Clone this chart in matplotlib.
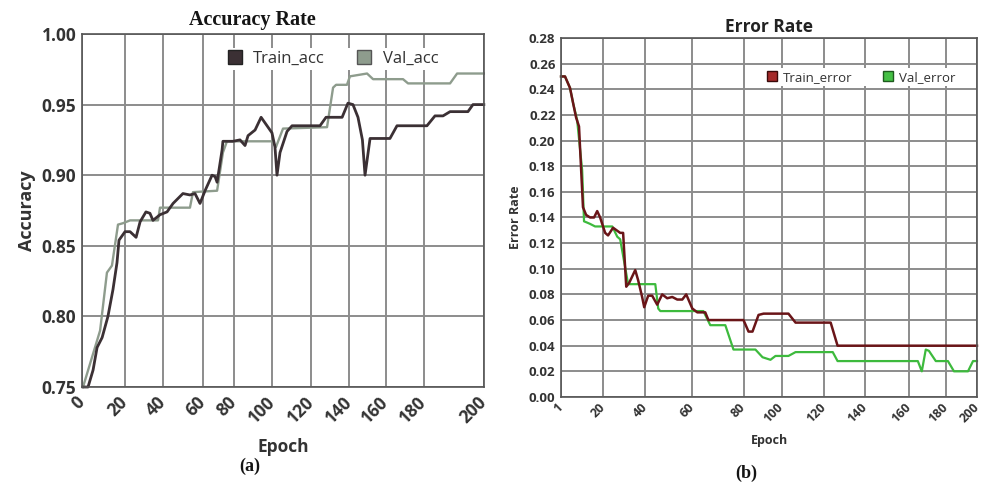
import numpy as np
import matplotlib
matplotlib.use("Agg")
import matplotlib.pyplot as plt
from matplotlib.lines import Line2D

# ---- (a) accuracy data (x = epoch position on the axis) ----
train_acc_x = [0.5, 3.0, 5.5, 7.5, 10.0, 12.9, 15.4, 17.4, 18.4, 21.4, 23.9, 26.9, 28.9, 31.8,
               33.8, 35.3, 38.8, 42.3, 45.3, 50.2, 53.7, 56.2, 58.7, 61.2, 64.7, 66.2, 67.2,
               69.7, 70.1, 75.1, 78.6, 81.1, 82.6, 86.1, 89.1, 94.5, 96.0, 97.0, 98.5, 102.0,
               104.5, 118.4, 121.4, 129.4, 132.3, 134.8, 137.3, 139.5, 140.8, 143.3, 153.2,
               156.7, 171.6, 175.6, 179.6, 183.1, 192.0, 194.5, 199.9]
train_acc = [0.750, 0.750, 0.762, 0.778, 0.785, 0.800, 0.819, 0.838, 0.854, 0.860, 0.860, 0.856,
             0.867, 0.874, 0.873, 0.868, 0.872, 0.874, 0.880, 0.887, 0.886, 0.887, 0.880, 0.889,
             0.900, 0.899, 0.895, 0.918, 0.924, 0.924, 0.925, 0.921, 0.928, 0.932, 0.941, 0.930,
             0.920, 0.900, 0.916, 0.931, 0.935, 0.935, 0.941, 0.941, 0.951, 0.950, 0.941, 0.925,
             0.900, 0.926, 0.926, 0.935, 0.935, 0.942, 0.942, 0.945, 0.945, 0.950, 0.950]

val_acc_x = [0.5, 9.0, 12.4, 14.9, 17.9, 20.4, 23.9, 37.8, 38.8, 53.7, 55.2, 67.2, 70.1, 72.1,
             92.5, 94.5, 96.5, 100.0, 121.9, 124.9, 126.4, 131.8, 133.3, 141.8, 144.8, 159.7,
             162.2, 183.1, 186.6, 199.9]
val_acc = [0.750, 0.790, 0.831, 0.836, 0.865, 0.866, 0.868, 0.868, 0.877, 0.877, 0.888, 0.889,
           0.916, 0.924, 0.924, 0.924, 0.920, 0.933, 0.934, 0.962, 0.964, 0.964, 0.970, 0.972,
           0.968, 0.968, 0.965, 0.965, 0.972, 0.972]

acc_tick_pos = [0, 21.4, 40.3, 60.2, 75.6, 94.5, 113.9, 132.8, 151.2, 170.1, 200]
acc_tick_lbl = ["0", "20", "40", "60", "80", "100", "120", "140", "160", "180", "200"]
acc_yticks = [0.75, 0.80, 0.85, 0.90, 0.95, 1.00]

# ---- (b) error data ----
train_err_x = [1.0, 2.9, 5.3, 6.8, 8.2, 9.6, 11.5, 13.0, 14.9, 16.8, 18.3, 19.7, 22.1, 23.5,
               25.9, 29.3, 30.7, 32.2, 33.6, 36.5, 37.9, 39.8, 40.8, 42.7, 44.6, 47.0, 49.4,
               51.8, 54.2, 56.6, 59.0, 60.9, 63.8, 66.2, 70.0, 71.5, 88.3, 90.7, 92.6, 95.5,
               97.9, 109.8, 113.2, 130.0, 133.3, 200.0]
train_err = [0.250, 0.250, 0.241, 0.229, 0.218, 0.211, 0.148, 0.142, 0.140, 0.140, 0.145, 0.140,
             0.128, 0.126, 0.132, 0.128, 0.128, 0.086, 0.089, 0.099, 0.091, 0.078, 0.070, 0.079,
             0.079, 0.072, 0.080, 0.077, 0.078, 0.076, 0.076, 0.080, 0.069, 0.066, 0.066, 0.060,
             0.060, 0.051, 0.051, 0.064, 0.065, 0.065, 0.058, 0.058, 0.040, 0.040]

val_err_x = [1.0, 2.9, 5.3, 6.8, 8.7, 11.1, 12.0, 13.5, 14.9, 17.3, 25.5, 27.9, 29.3, 33.1,
             46.1, 47.5, 48.5, 69.1, 72.4, 79.6, 83.5, 94.0, 97.4, 101.2, 103.6, 109.8, 113.2,
             131.0, 133.3, 171.7, 173.6, 175.5, 177.0, 180.3, 186.1, 189.0, 195.7, 198.1, 200.0]
val_err = [0.250, 0.250, 0.241, 0.229, 0.216, 0.177, 0.137, 0.136, 0.135, 0.133, 0.133, 0.125,
           0.123, 0.088, 0.088, 0.069, 0.067, 0.067, 0.056, 0.056, 0.037, 0.037, 0.031, 0.029,
           0.032, 0.032, 0.035, 0.035, 0.028, 0.028, 0.020, 0.037, 0.036, 0.028, 0.028, 0.020,
           0.020, 0.028, 0.028]

err_tick_pos = [1, 21.1, 41.3, 63.8, 88.3, 106.5, 126.6, 146.3, 167.4, 185.1, 200]
err_tick_lbl = ["1", "20", "40", "60", "80", "100", "120", "140", "160", "180", "200"]
err_yticks = np.arange(0, 0.281, 0.02)

plt.rcParams['font.family'] = ['Open Sans', 'DejaVu Sans']
grid_col = '#8c8c8c'
txt_col = '#333333'

fig = plt.figure(figsize=(9.81, 4.84), dpi=100)

# (a) Accuracy
ax1 = fig.add_axes([0.0836, 0.2004, 0.4098, 0.7294])
ax1.plot(val_acc_x, val_acc, color='#8e9c8d', lw=1.7, clip_on=False)
ax1.plot(train_acc_x, train_acc, color='#3b3034', lw=2.0, clip_on=False)
ax1.set_xlim(0, 200)
ax1.set_ylim(0.75, 1.00)
ax1.set_xticks(acc_tick_pos)
ax1.set_xticklabels(acc_tick_lbl, rotation=45, ha='right', va='center',
                    rotation_mode='anchor', fontsize=12.5, fontweight='bold', color=txt_col)
ax1.set_yticks(acc_yticks)
ax1.set_yticklabels(["%.2f" % v for v in acc_yticks], fontsize=12.5, fontweight='bold', color=txt_col)
ax1.tick_params(length=0, pad=4)
ax1.tick_params(axis='x', pad=9)
ax1.grid(True, color=grid_col, lw=1.4)
for s in ax1.spines.values():
    s.set_color('#555555')
    s.set_linewidth(1.2)
fig.text(252 / 981, 1 - 20 / 484, "Accuracy Rate", family='Liberation Serif', fontweight='bold',
         fontsize=14.5, color='#141414', ha='center', va='center')
ax1.set_ylabel("Accuracy", fontsize=13, fontweight='bold', color=txt_col, labelpad=4)
ax1.set_xlabel("Epoch", fontsize=12.5, fontweight='bold', color=txt_col, labelpad=8)
h1 = [Line2D([], [], marker='s', ls='', ms=10, mfc='#3b3034', mec='#222222'),
      Line2D([], [], marker='s', ls='', ms=10, mfc='#8e9c8d', mec='#555555')]
ax1.legend(h1, ["Train_acc", "Val_acc"], ncol=2, loc='upper right', bbox_to_anchor=(0.915, 0.985),
           fontsize=12, frameon=True, framealpha=1, facecolor='white', edgecolor='none',
           handletextpad=0.35, handlelength=1.5, columnspacing=1.6, borderpad=0.2,
           labelcolor=txt_col)
fig.text(0.255, 0.028, "(a)", family='Liberation Serif', fontweight='bold', fontsize=13,
         ha='center', color='#141414')

# (b) Error
ax2 = fig.add_axes([0.5719, 0.1798, 0.424, 0.7417])
ax2.plot(val_err_x, val_err, color='#3dba3d', lw=1.6, clip_on=False)
ax2.plot(train_err_x, train_err, color='#6a1518', lw=1.8, clip_on=False)
ax2.set_xlim(1, 200)
ax2.set_ylim(0, 0.28)
ax2.set_xticks(err_tick_pos)
ax2.set_xticklabels(err_tick_lbl, rotation=45, ha='right', va='center',
                    rotation_mode='anchor', fontsize=9, fontweight='bold', color=txt_col)
ax2.set_yticks(err_yticks)
ax2.set_yticklabels(["%.2f" % v for v in err_yticks], fontsize=9.5, fontweight='bold', color=txt_col)
ax2.tick_params(length=0, pad=4)
ax2.tick_params(axis='x', pad=6)
ax2.grid(True, color=grid_col, lw=1.4)
for s in ax2.spines.values():
    s.set_color('#555555')
    s.set_linewidth(1.2)
ax2.set_title("Error Rate", fontweight='bold', fontsize=12.5, color='#222222', pad=4)
ax2.set_ylabel("Error Rate", fontsize=9, fontweight='bold', color=txt_col, labelpad=5)
ax2.set_xlabel("Epoch", fontsize=9, fontweight='bold', color=txt_col, labelpad=6)
h2 = [Line2D([], [], marker='s', ls='', ms=7, mfc='#a52a2a', mec='#3a0a0a'),
      Line2D([], [], marker='s', ls='', ms=7, mfc='#44c044', mec='#1e5a1e')]
ax2.legend(h2, ["Train_error", "Val_error"], ncol=2, loc='upper right', bbox_to_anchor=(0.97, 0.935),
           fontsize=9.5, frameon=True, framealpha=1, facecolor='white', edgecolor='none',
           handletextpad=0.1, handlelength=1.5, columnspacing=1.9, borderpad=0.2,
           labelcolor=txt_col)
fig.text(0.761, 0.012, "(b)", family='Liberation Serif', fontweight='bold', fontsize=13,
         ha='center', color='#141414')

fig.savefig("out.png", dpi=100)
